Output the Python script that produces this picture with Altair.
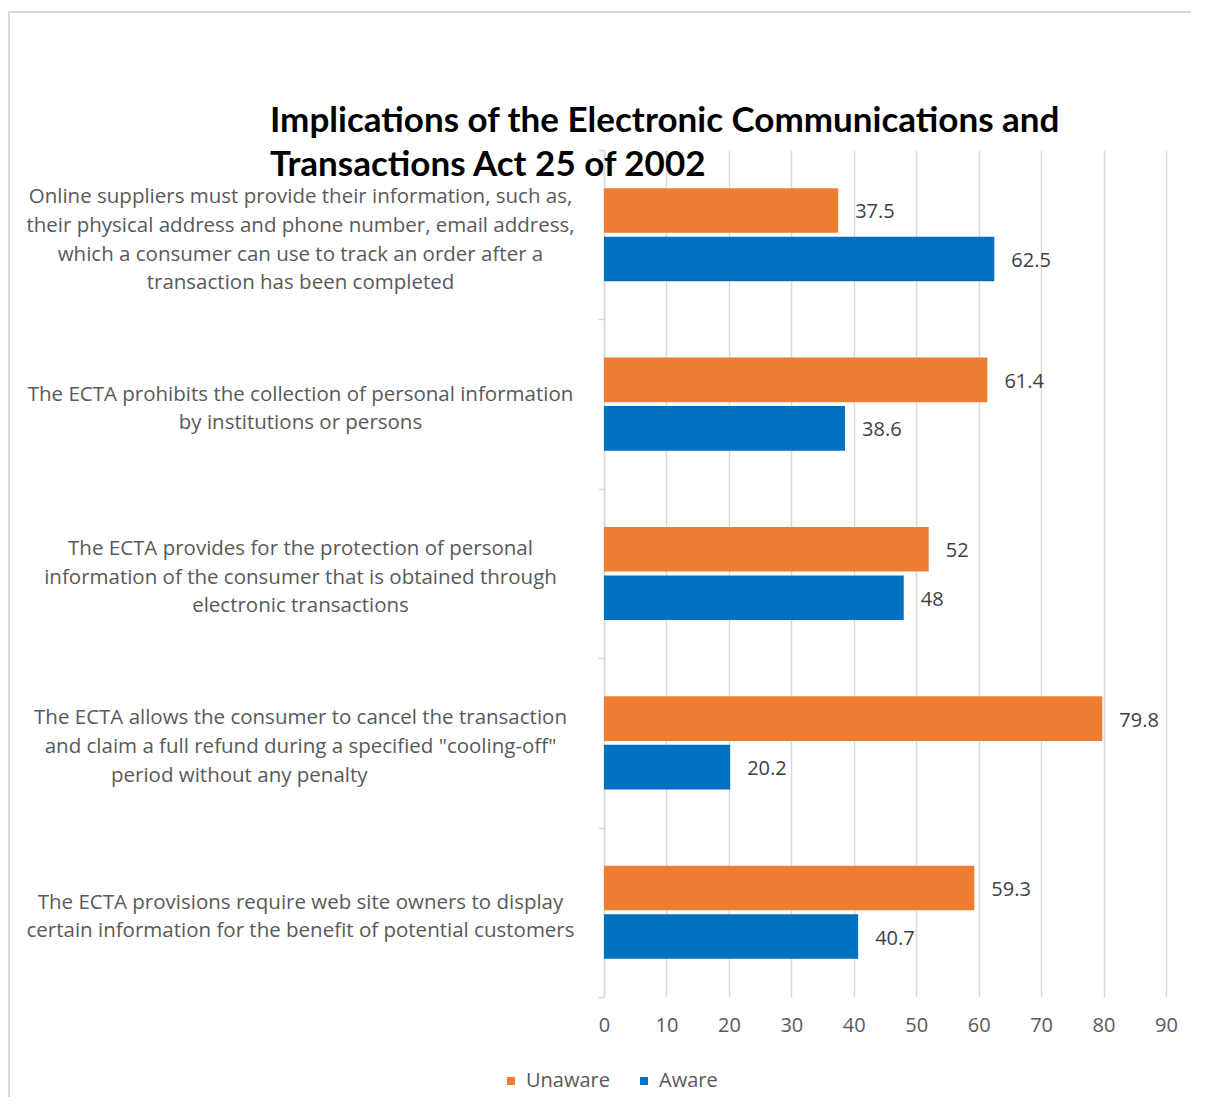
import altair as alt
import pandas as pd

NB = "\u00a0"
ZW = "\u200b"
categories = [
    "Online suppliers must provide their information, such as,|their physical address and phone number, email address,|which a consumer can use to track an order after a|transaction has been completed",
    "The ECTA prohibits the collection of personal information|by institutions or persons",
    "The ECTA provides for the protection of personal|information of the consumer that is obtained through|electronic transactions",
    "The ECTA allows the consumer to cancel the transaction|and claim a full refund during a specified \"cooling-off\"|period without any penalty" + NB * 23 + ZW,
    "The ECTA provisions require web site owners to display|certain information for the benefit of potential customers",
]
series = ["Unaware", "Aware"]
unaware = [37.5, 61.4, 52, 79.8, 59.3]
aware = [62.5, 38.6, 48, 20.2, 40.7]
x_ticks = [0, 10, 20, 30, 40, 50, 60, 70, 80, 90]
title_lines = ["Implications of the Electronic Communications and", "Transactions Act 25 of 2002"]

rows = []
for c, u, a in zip(categories, unaware, aware):
    rows.append({"category": c, "series": "Unaware", "value": u})
    rows.append({"category": c, "series": "Aware", "value": a})
df = pd.DataFrame(rows)

FONT = "Open Sans"
TFONT = "Lato"
W, H = 562, 847

y_enc = alt.Y(
    "category:N", sort=categories,
    scale=alt.Scale(paddingInner=0, paddingOuter=0),
    axis=alt.Axis(
        title=None, tickBand="extent", grid=False,
        labelExpr="split(datum.label, '|')",
        labelAlign="center", labelBaseline="middle", labelPadding=298, labelLimit=0,
        labelOffset={
            "condition": [
                {"test": "length(split(datum.value, '|')) == 4", "value": -38},
                {"test": "length(split(datum.value, '|')) == 3", "value": -25},
            ],
            "value": -10,
        },
        labelFont=FONT, labelFontSize=20.5, labelColor="#595959", labelLineHeight=28.7,
        domainColor="#d9d9d9", domainWidth=1.5, tickColor="#d9d9d9", tickSize=6, tickWidth=1.5,
    ),
)
yoff_enc = alt.YOffset("series:N", sort=series,
                       scale=alt.Scale(paddingInner=0.08, paddingOuter=0.786))
x_enc = alt.X(
    "value:Q", scale=alt.Scale(domain=[0, 90], nice=False),
    axis=alt.Axis(
        title=None, values=x_ticks, grid=True, gridColor="#d9d9d9", gridWidth=1.5,
        domain=False, ticks=False, labelPadding=18, labelFlush=False,
        labelFont=FONT, labelFontSize=20, labelColor="#595959",
    ),
)

bars = alt.Chart(df).mark_bar().encode(
    y=y_enc, yOffset=yoff_enc, x=x_enc,
    color=alt.Color(
        "series:N",
        scale=alt.Scale(domain=series, range=["#ED7D31", "#0070C0"]),
        legend=alt.Legend(
            title=None, orient="none", legendX=-103, legendY=921, direction="horizontal",
            symbolType="square", symbolSize=64, symbolStrokeWidth=0,
            labelFont=FONT, labelFontSize=20, labelColor="#595959",
            labelOffset=5, columnPadding=24, padding=0,
        ),
    ),
)

labels = alt.Chart(df).mark_text(
    align="left", baseline="middle", dx=17, dy=2, font=FONT, fontSize=20, color="#404040"
).encode(y=y_enc, yOffset=yoff_enc, x=x_enc, text=alt.Text("value:Q"))

frame_df = pd.DataFrame({"a": [0]})
frame_top = alt.Chart(frame_df).mark_rule(color="#d9d9d9", strokeWidth=2).encode(
    x=alt.value(-596), x2=alt.value(W + 30), y=alt.value(-138)
)
frame_left = alt.Chart(frame_df).mark_rule(color="#d9d9d9", strokeWidth=2).encode(
    x=alt.value(-595), y=alt.value(-138), y2=alt.value(H + 110)
)

chart = alt.layer(frame_top, frame_left, bars, labels).properties(
    width=W, height=H,
    title=alt.TitleParams(
        text=title_lines, font=TFONT, fontSize=35, fontWeight="bold", color="black",
        anchor="start", frame="group", align="left", dx=-334, dy=172, offset=0,
        baseline="top", lineHeight=44,
    ),
    autosize=alt.AutoSizeParams(type="none"),
    padding={"left": 596, "top": 142, "right": 25, "bottom": 100},
).configure_view(stroke=None)

chart.save("out.html", embed_options={"renderer": "svg", "actions": False})
